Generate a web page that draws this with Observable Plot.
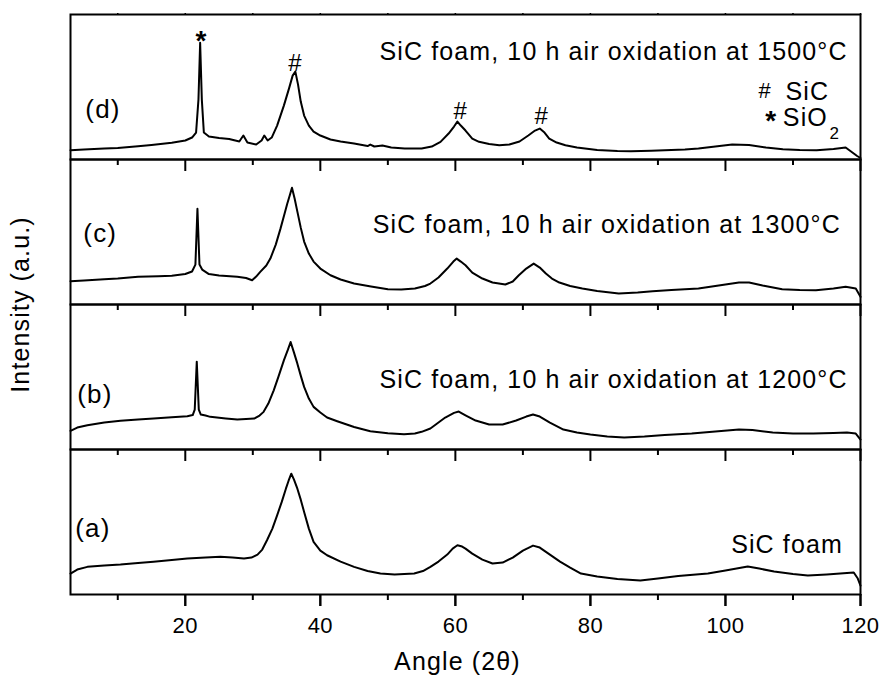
<!DOCTYPE html>
<html>
<head>
<meta charset="utf-8">
<script src="https://cdn.jsdelivr.net/npm/d3@7"></script>
<script src="https://cdn.jsdelivr.net/npm/@observablehq/plot@0.6"></script>
<style>
  html, body { margin: 0; padding: 0; background: #fff; }
  #chart svg text { letter-spacing: 0.045em; }
  #chart svg g[aria-label="x-axis tick label"] text { letter-spacing: 0.02em; }
</style>
</head>
<body>
<div id="chart"></div>
<script>
// ---------- data ----------
const panelKeys = ["d", "c", "b", "a"];
const panelLabels = ["(d)", "(c)", "(b)", "(a)"];
const sampleNames = [
  "SiC foam, 10 h air oxidation at 1500°C",
  "SiC foam, 10 h air oxidation at 1300°C",
  "SiC foam, 10 h air oxidation at 1200°C",
  "SiC foam"
];
const xLabel = "Angle (2θ)";
const yLabel = "Intensity (a.u.)";
const majorTicks = [20, 40, 60, 80, 100, 120];
const minorTicks = [10, 30, 50, 70, 90, 110];

// (d) 1500 °C
const angleD = [3,5,8,10,13,15,18,20,21,21.6,21.95,22.2,22.45,22.75,23.5,25,26.5,28,28.6,29.2,30.5,31.3,31.7,32.2,32.8,33.6,34.6,35.4,35.9,36.3,36.7,37.1,37.6,38.3,39,40,41.5,43,45,47,47.4,48,49.2,50.5,52.5,55,56.5,57.8,59,59.8,60.3,60.8,61.5,62.5,63.5,65,66.5,68,69.5,70.8,71.8,72.5,73.2,73.9,75,76.3,78,81,84,86,89,91,94,96,98.5,101,103.5,106,108.5,111,113.5,116,117.8,118.8,119.5,120];
const intensityD = [9.3,10,11,11.5,13.3,14.5,16.7,19,22,27,60,117,60,27,23,21.5,20.5,18,24,17,15,19,24,19,22,34,54,72,84,88,75,58,44,34,28,24,20,18,16,13.5,15,13,14,12,11,11,13,17.7,26,33,38,34,29,21,17.7,15.5,14.3,15,18,24,29,31,27,21,17,14.3,12,9.5,8.5,8.3,8.8,9.3,10,11,13,15,14.5,12,10.3,9.5,9.3,10.5,12,7,3.5,1.5];

// (c) 1300 °C
const angleC = [3,5,8,10,13,16,18,20,21,21.5,21.8,22.1,22.5,23.5,25,27.7,29,29.9,30.5,31.1,32,32.6,33.4,34.1,34.7,35.1,35.5,35.8,36.2,36.6,37.1,37.6,38.3,39,40,41.5,43,45,47.5,50,52,54,55.5,56.3,57.5,58.8,59.7,60.2,60.8,61.5,62.5,64,65.5,67.4,68.5,69.4,70.5,71.6,72.5,73.4,74.3,75.4,77,78.8,81,84.2,87,89.2,92,96,98,100,102,103.5,105.5,108.4,111,113.4,116,117.8,119.3,120];
const intensityC = [23.3,24,25.3,26,27.7,28.3,28.7,30.5,33,40,96,40,35,30.5,29,27.7,26.5,24.3,28,32.7,39,46,60,76,91,101,110,117,106,93,77,63,51,43,36,29.3,25,21,18,15.3,15,16,18.5,21,27,36,43,46,43,39.3,32,26,22,20,23,29.3,36,41,37,31,26,22,18.5,16,13.5,11,12,13.3,14.5,16,18,20,22,22,19,15.3,14.5,14.3,16,17.7,16,7.7];

// (b) 1200 °C
const angleB = [3,4,5.5,8,10.4,13,15.3,18,20.3,21.1,21.4,21.7,22.0,22.3,23,23.7,26,27.7,29,30.2,31,31.6,32.3,33.1,33.8,34.6,35.2,35.6,36.1,36.6,37.1,37.6,38.3,39,40,41,42.5,45,47.4,50,52.4,54,55,56.3,57.3,58.5,59.8,60.5,61.5,63,65,67,69,70.5,71.5,72.5,74,76,78,80,82.5,85,88,91,95,98.5,102,104,107,110,113,116,118,119.3,120];
const intensityB = [18.7,22,24.3,27,28.7,30,31,32.3,33.3,34.5,40,88,40,35,34,32.7,31,30,30.5,31,34,37.7,46,59.3,73,89.3,100,107.7,97,86,74,62.7,51,42.7,37,32,28.3,22.5,18.3,16.3,15.3,16,17.7,21,26,32,36.7,38,34.3,29,25,25,29,33,35,33,27,20,17,15,13,12,13,14.5,16,18,20,19.5,17,16,16,16.5,17,16,10];

// (a) SiC foam
const angleA = [3,4,5.5,8,10.4,13,15.3,18,20.3,23,25.2,27,28.7,29.8,30.7,31.4,32.1,32.9,33.6,34.3,34.9,35.3,35.7,36.1,36.6,37.1,37.6,38.3,39,40,41,43,45,47,48.9,51,53.9,55.2,56.3,57.5,58.8,59.6,60.3,61,61.5,62.5,64,65.5,67,68.5,70,71.5,72.5,74,75.5,77,78.6,81,84,87.4,90,93,97.4,100,103.3,105,107.2,110,112.2,115,117,119,119.6,120];
const intensityA = [21,25,27.7,29,30,31.5,32.7,34.5,36,37,37.7,37,36,37,40,45,54.3,66,79.3,93,106,114,121,115,106,95,82.7,66,52.7,44,39.3,33,27.7,23.5,21,20,21,23.5,27.7,33,40,46,49.3,48,46,41,35,31,32,37,44,49,47,40,33,27,21,18,15.5,14,16,18.5,21,24,28,26,23,20.5,19,20,21,22,16,9];

// peak markers in panel (d)
const sio2PeakAngles = [22.4];
const sicPeakAngles = [36.3, 60.8, 72.8];
const legendSymbols = ["#", "*"];
const legendNames = ["SiC", "SiO"];
const subscriptTwo = "2";

// ---------- build tables ----------
const series = [["d", angleD, intensityD], ["c", angleC, intensityC], ["b", angleB, intensityB], ["a", angleA, intensityA]];
const rows = series.flatMap(([panel, xs, ys]) => xs.map((x, i) => ({panel, angle: x, intensity: ys[i]})));
const panelRows = panelKeys.map((p, i) => ({panel: p, label: panelLabels[i], name: sampleNames[i]}));

const chart = Plot.plot({
  width: 881,
  height: 679,
  marginTop: 13,
  marginRight: 21,
  marginBottom: 85,
  marginLeft: 70,
  style: {fontFamily: "'Liberation Sans', Arial, Helvetica, sans-serif", fontSize: "22px", color: "#000", background: "#fff", overflow: "visible"},
  x: {domain: [3, 120]},
  y: {domain: [0, 145.25], axis: null},
  fy: {domain: panelKeys, axis: null, padding: 0},
  marks: [
    Plot.line(rows, {x: "angle", y: "intensity", fy: "panel", stroke: "#000", strokeWidth: 2}),
    Plot.frame({stroke: "#000", strokeWidth: 2}),
    // ticks on every panel's bottom edge
    Plot.axisX({ticks: majorTicks, tickSize: 12, strokeWidth: 2, fill: "none", facetAnchor: null}),
    Plot.axisX({ticks: minorTicks, tickSize: 6, strokeWidth: 2, fill: "none", facetAnchor: null}),
    Plot.axisX({anchor: "top", ticks: [...minorTicks, ...majorTicks], tickSize: 2, strokeWidth: 1.5, fill: "none"}),
    // labelled bottom axis
    Plot.axisX({ticks: majorTicks, tickSize: 12, tickPadding: 11, strokeWidth: 2, fontSize: 22, label: null}),
    // panel letters and sample names
    Plot.text(panelRows, {fy: "panel", text: "label", x: [5.2, 4.9, 4.0, 3.7], y: [50, 70.5, 55, 66], textAnchor: "start", fontSize: 26}),
    Plot.text(panelRows, {fy: "panel", text: "name", x: [118.1, 117.1, 118.1, 117.4], y: [108, 80, 70, 50], textAnchor: "end", fontSize: 25}),
    // peak markers
    Plot.text(sio2PeakAngles, {fy: ["d"], x: (d) => d, y: [119], text: () => "*", fontSize: 28, fontWeight: "bold"}),
    Plot.text(sicPeakAngles, {fy: ["d", "d", "d"], x: (d) => d, y: [96, 48, 43], text: () => "#", fontSize: 24}),
    // legend
    Plot.text([legendSymbols[0]], {fy: ["d"], x: [104.9], y: [69], text: (d) => d, textAnchor: "start", fontSize: 22}),
    Plot.text([legendSymbols[1]], {fy: ["d"], x: [105.9], y: [39], text: (d) => d, textAnchor: "start", fontSize: 28, fontWeight: "bold"}),
    Plot.text(legendNames, {fy: ["d", "d"], x: [108.9, 108.5], y: [68, 42], text: (d) => d, textAnchor: "start", fontSize: 25}),
    Plot.text([subscriptTwo], {fy: ["d"], x: [115.4], y: [26], text: (d) => d, textAnchor: "start", fontSize: 17}),
    // axis titles
    Plot.text([yLabel], {fy: ["c"], x: [3], y: [0], dx: -50, text: (d) => d, rotate: -90, fontSize: 25}),
    Plot.text([xLabel], {fy: ["a"], x: [60.3], y: [0], dy: 67, text: (d) => d, fontSize: 25})
  ]
});
document.getElementById("chart").append(chart);
</script>
</body>
</html>
